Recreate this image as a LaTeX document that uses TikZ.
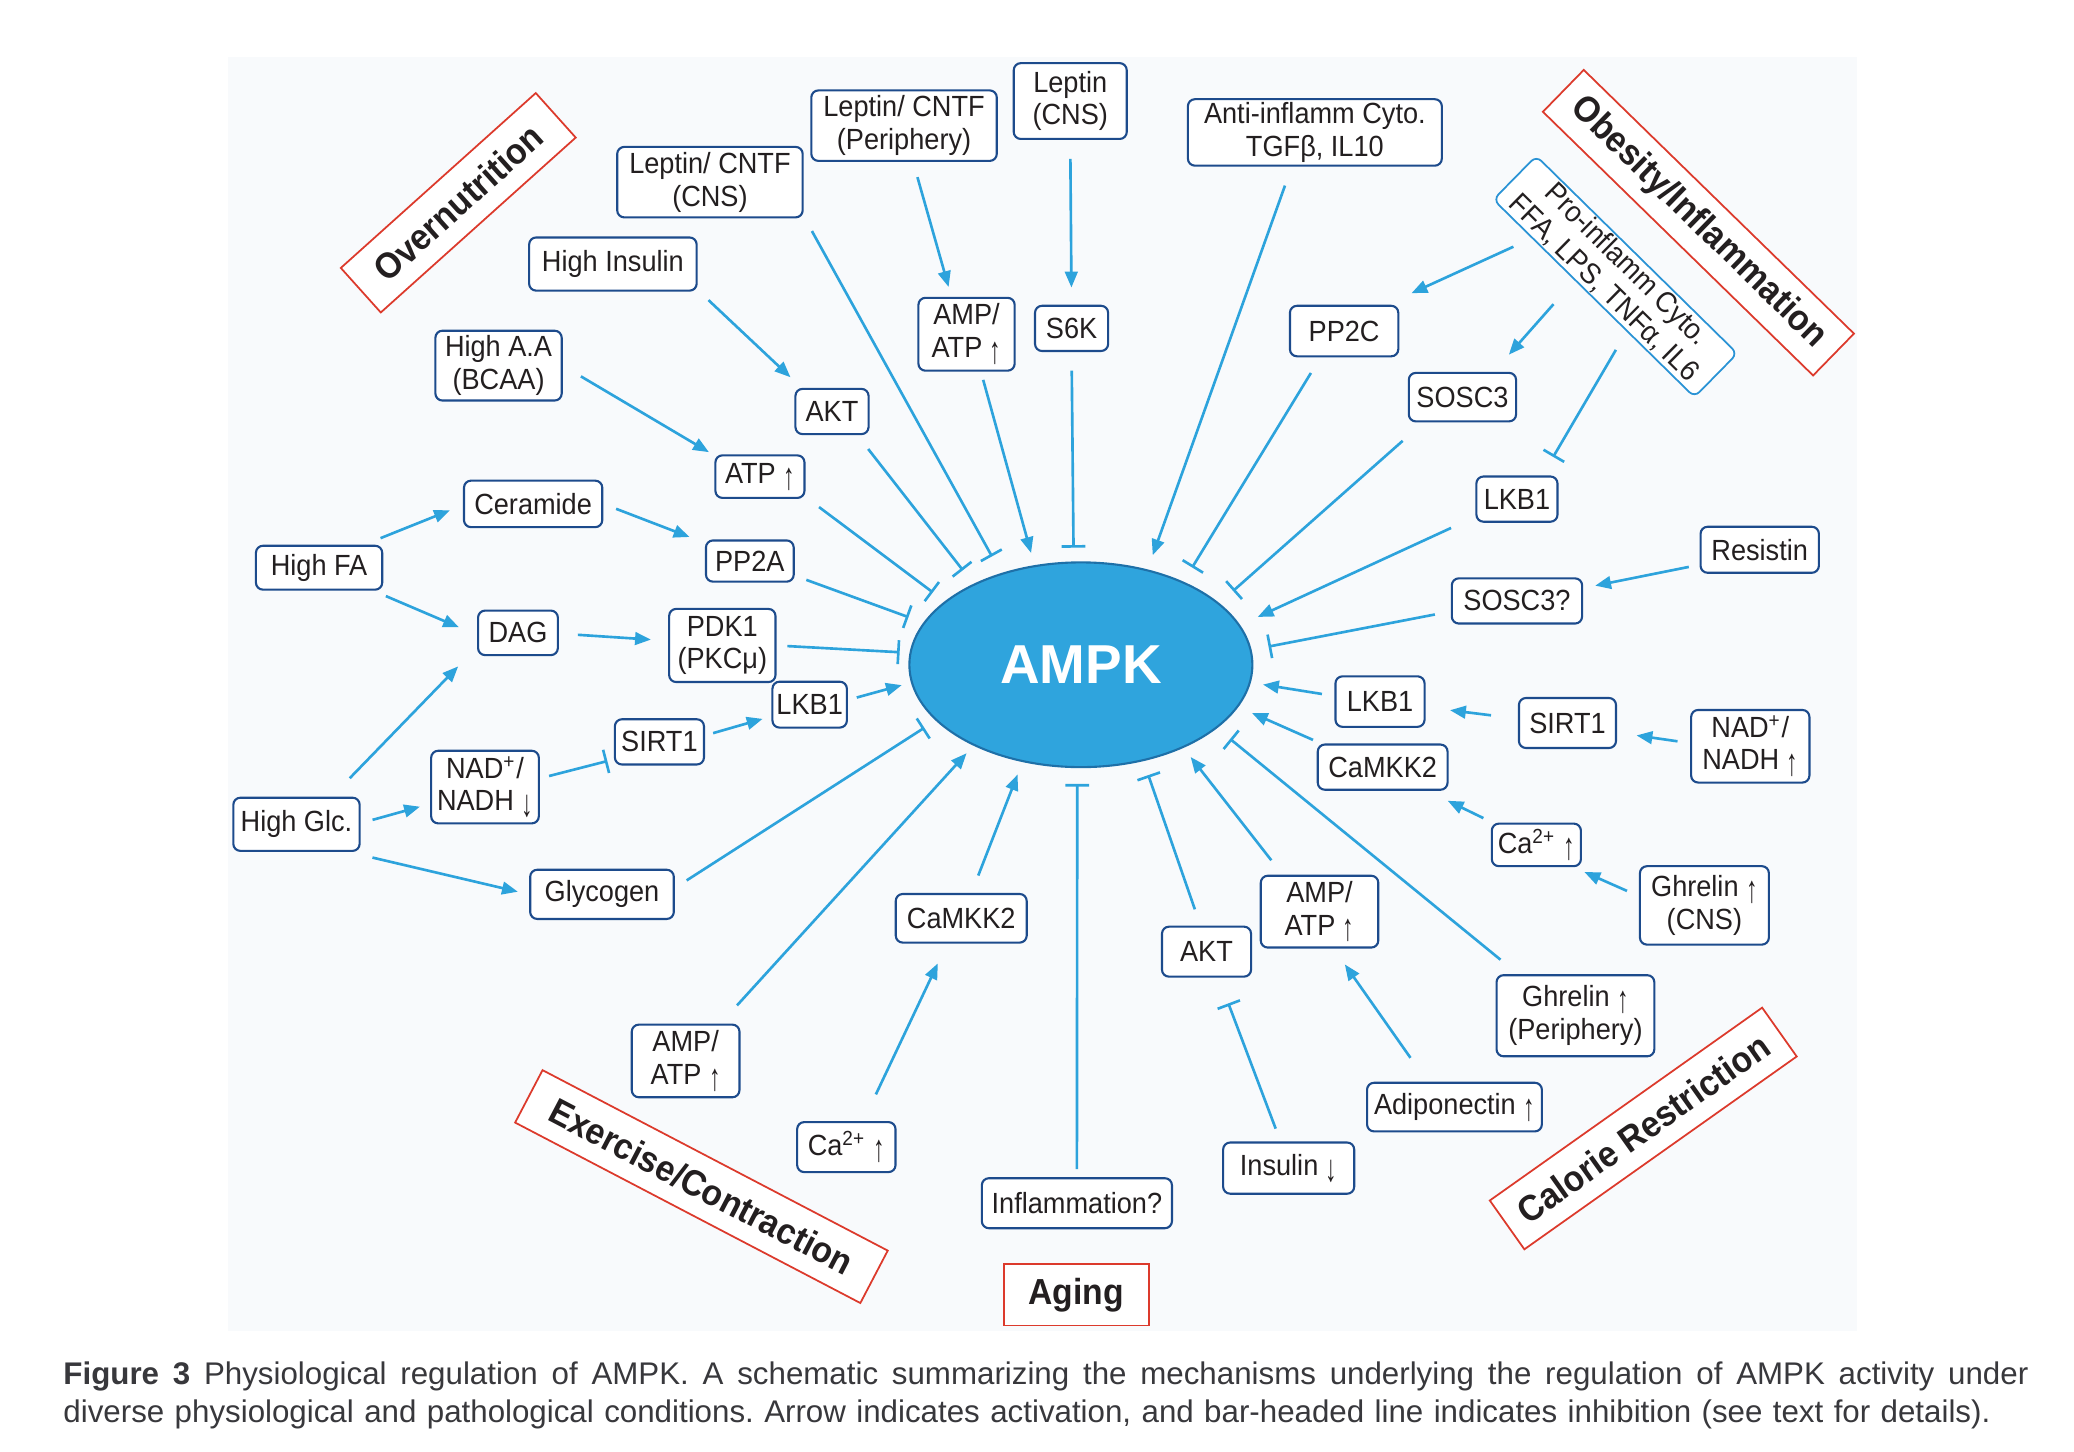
\documentclass[tikz,border=0pt]{standalone}
\usepackage{fontspec}
\usepackage{graphicx}
\setmainfont{Liberation Sans}
\newfontfamily\nfont{Liberation Sans}[FakeStretch=0.93]
\usetikzlibrary{arrows.meta,shapes.geometric}
\newcommand{\pxu}{0.013295cm}
\newcommand{\uparr}{\raisebox{-0.2em}{\scalebox{0.85}[1.3]{↑}}}
\newcommand{\dnarr}{\raisebox{-0.2em}{\scalebox{0.85}[1.3]{↓}}}
\definecolor{lblue}{HTML}{2DA3DC}
\definecolor{navy}{HTML}{1D4B8C}
\definecolor{probl}{HTML}{2A93D5}
\definecolor{redb}{HTML}{DC3A2C}
\definecolor{txt}{HTML}{231F20}
\definecolor{capc}{HTML}{38383C}
\definecolor{ampkf}{HTML}{2FA4DD}
\definecolor{ampkd}{HTML}{1E70A8}
\definecolor{bgc}{HTML}{F8FAFC}
\tikzset{
 nb/.style={draw=navy, line width=0.6pt, rounded corners=2pt, fill=white, text=txt,
   font=\nfont\fontsize{8.3}{9.3}\selectfont, align=center, inner sep=0pt},
 sz/.style 2 args={minimum width=#1*\pxu, minimum height=#2*\pxu},
 rb/.style={draw=redb, line width=0.5pt, fill=white, text=txt,
   font=\nfont\bfseries\fontsize{10.3}{12}\selectfont, inner sep=0pt},
 act/.style={draw=lblue, line width=0.75pt, -{Triangle[length=4.5pt,width=3.6pt]}},
 inh/.style={draw=lblue, line width=0.75pt, -{Bar[width=6.8pt]}},
 gp/.style 2 args={shorten <=#1pt, shorten >=#2pt},
}
\begin{document}
\begin{tikzpicture}[x=0.013295cm, y=-0.013295cm]
\useasboundingbox (0,0) rectangle (1560,1092.1);
\fill[white] (0,0) rectangle (1560,1092.1);
\fill[bgc] (171.6,42.8) rectangle (1397,1001);

% central node
\node[ellipse, draw=ampkd, line width=0.6pt, fill=ampkf, sz={258}{154}, inner sep=0pt,
  text=white, font=\bfseries\fontsize{15.6}{18}\selectfont] (ampk) at (813,500) {AMPK};

% boxes
\node[nb,sz={139.5}{53}] (lcns) at (534,137) {Leptin/ CNTF\\(CNS)};
\node[nb,sz={139.5}{53}] (lper) at (680,94.5) {Leptin/ CNTF\\(Periphery)};
\node[nb,sz={85}{57}] (lepc) at (805,76) {Leptin\\(CNS)};
\node[nb,sz={191}{50}] (anti) at (989,99.6) {Anti-inflamm Cyto.\\TGFβ, IL10};
\node[nb,sz={126}{40}] (hins) at (461,198.6) {High Insulin};
\node[nb,sz={95}{52.5}] (haa) at (375,275) {High A.A\\(BCAA)};
\node[nb,sz={55}{34}] (akt1) at (625.8,309.5) {AKT};
\node[nb,sz={72.4}{54.8}] (amp1) at (727,251.4) {AMP/\\ATP \uparr};
\node[nb,sz={55}{34}] (s6k) at (806,247) {S6K};
\node[nb,sz={67}{32}] (atp) at (571.6,358.5) {ATP \uparr};
\node[nb,sz={104}{35}] (cer) at (401,379) {Ceramide};
\node[nb,sz={66}{31}] (pp2a) at (564,422) {PP2A};
\node[nb,sz={95}{33}] (hfa) at (240,427) {High FA};
\node[nb,sz={60}{33.5}] (dag) at (389.6,476) {DAG};
\node[nb,sz={80}{55}] (pdk1) at (543.3,485.5) {PDK1\\(PKCμ)};
\node[nb,sz={56}{34.5}] (lkb1l) at (609,530) {LKB1};
\node[nb,sz={67}{34}] (sirt1l) at (496,558) {SIRT1};
\node[nb,sz={81}{54.6}] (nadl) at (364.8,592) {NAD\textsuperscript{+}/\\NADH \dnarr};
\node[nb,sz={95}{40}] (hglc) at (223,620) {High Glc.};
\node[nb,sz={108}{37}] (glyc) at (452.8,672.7) {Glycogen};
\node[nb,sz={98.5}{36.6}] (camk1) at (723,690.7) {CaMKK2};
\node[nb,sz={81}{54.6}] (amp2) at (515.7,798) {AMP/\\ATP \uparr};
\node[nb,sz={74}{37.6}] (ca1) at (636.6,862.8) {Ca\textsuperscript{2+} \uparr};
\node[nb,sz={143}{37.6}] (infl) at (810,905) {Inflammation?};
\node[nb,sz={67}{37.6}] (akt2) at (907.5,715.8) {AKT};
\node[nb,sz={88.4}{54}] (amp3) at (992.5,685.7) {AMP/\\ATP \uparr};
\node[nb,sz={98.6}{38.5}] (ins) at (969.3,878.6) {Insulin \dnarr};
\node[nb,sz={131.5}{36.6}] (adipo) at (1094,832.7) {Adiponectin \uparr};
\node[nb,sz={118.7}{61}] (ghp) at (1185,764) {Ghrelin \uparr\\(Periphery)};
\node[nb,sz={97}{59}] (ghc) at (1282,681) {Ghrelin \uparr\\(CNS)};
\node[nb,sz={67}{32}] (ca2) at (1155.6,635.5) {Ca\textsuperscript{2+} \uparr};
\node[nb,sz={97.6}{34}] (camk2) at (1040,577) {CaMKK2};
\node[nb,sz={67}{38}] (lkb1m) at (1038,527.7) {LKB1};
\node[nb,sz={73}{37.6}] (sirt1r) at (1179,543.8) {SIRT1};
\node[nb,sz={89}{54.6}] (nadr) at (1316.5,561.3) {NAD\textsuperscript{+}/\\NADH \uparr};
\node[nb,sz={98}{34}] (sosq) at (1141,452) {SOSC3?};
\node[nb,sz={89}{34.6}] (res) at (1323.6,413.5) {Resistin};
\node[nb,sz={61}{34}] (lkb1t) at (1141,375.4) {LKB1};
\node[nb,sz={80.7}{36.5}] (sosc3) at (1100,298.7) {SOSC3};
\node[nb,sz={81.5}{38}] (pp2c) at (1011,249) {PP2C};
\node[nb,draw=probl,line width=0.5pt,sz={212}{46},rotate=-44.5] (pro) at (1215,208) {Pro-inflamm Cyto.\\FFA, LPS, TNFα, IL6};

% condition labels
\node[rb,sz={197}{45},rotate=41.9] (over) at (344.7,152.5) {Overnutrition};
\node[rb,sz={284}{44},rotate=-44.3] (obes) at (1277.5,167.5) {Obesity/Inflammation};
\node[rb,sz={293}{44.5},rotate=-27.6] (exer) at (527.6,892.5) {Exercise/Contraction};
\node[rb,sz={251}{45},rotate=35.3] (calo) at (1236,848.8) {Calorie Restriction};
\node[rb,sz={109}{46}] (aging) at (809.5,974) {Aging};

% connectors
\draw[inh,gp={4.8}{5.4}] (lcns.-20.3) -- (ampk.131.1);
\draw[act,gp={4.5}{2.9}] (lper.-76.5) -- (amp1.112.2);
\draw[act,gp={2.4}{3.6}] (amp1.-69.2) -- (ampk.115.1);
\draw[act,gp={5.4}{4.9}] (lepc.-90) -- (s6k.90);
\draw[inh,gp={5.3}{3.9}] (s6k.-90) -- (ampk.94.2);
\draw[act,gp={4.2}{4.4}] (hins.-17) -- (akt1.142.7);
\draw[inh,gp={5}{4.9}] (akt1.-43.7) -- (ampk.143.5);
\draw[act,gp={6}{1.8}] (haa.-0.5) -- (atp.155.8);
\draw[inh,gp={4.8}{4.2}] (atp.-24.5) -- (ampk.155.2);
\draw[act,gp={5}{4}] (hfa.27.1) -- (cer.181.3);
\draw[act,gp={3.9}{4.7}] (cer.-0.8) -- (pp2a.158);
\draw[inh,gp={3.5}{4.5}] (pp2a.-18.5) -- (ampk.165.7);
\draw[act,gp={3.9}{5.6}] (hfa.-23.4) -- (dag.183.1);
\draw[act,gp={5.4}{4.9}] (dag.-1.5) -- (pdk1.175);
\draw[inh,gp={3.1}{2.8}] (pdk1.-0.4) -- (ampk.176.9);
\draw[act,gp={2.6}{2.7}] (lkb1l.7) -- (ampk.186.5);
\draw[act,gp={2.4}{2.6}] (sirt1l.8.6) -- (lkb1l.197.9);
\draw[inh,gp={2.7}{1.9}] (nadl.9.1) -- (sirt1l.201.2);
\draw[act,gp={7.3}{7.7}] (hglc.38) -- (dag.199.7);
\draw[act,gp={3.5}{3}] (hglc.1.5) -- (nadl.197.3);
\draw[act,gp={7}{3.3}] (hglc.-28.9) -- (glyc.180);
\draw[inh,gp={4}{3.8}] (glyc.5) -- (ampk.201.1);
\draw[act,gp={7}{2.9}] (amp2.47) -- (ampk.217.7);
\draw[act,gp={8.4}{6.2}] (ca1.57.3) -- (camk1.241.4);
\draw[act,gp={5.3}{3.8}] (camk1.68.5) -- (ampk.239.8);
\draw[inh,gp={2.3}{4.5}] (infl.90) -- (ampk.268.6);
\draw[inh,gp={4.9}{4.2}] (akt2.103.6) -- (ampk.303.6);
\draw[act,gp={5.2}{3.3}] (amp3.135.6) -- (ampk.321.3);
\draw[inh,gp={3.9}{7.8}] (ins.107.1) -- (akt2.-65.2);
\draw[act,gp={8.3}{5.5}] (adipo.137) -- (amp3.-69.4);
\draw[inh,gp={6.5}{4.8}] (ghp.144.9) -- (ampk.335.9);
\draw[act,gp={3.7}{3.4}] (ghc.172.4) -- (ca2.-31.8);
\draw[act,gp={2.9}{6.5}] (ca2.153.4) -- (camk2.-28.6);
\draw[act,gp={2.5}{4.2}] (camk2.159.5) -- (ampk.345.2);
\draw[act,gp={7.7}{7}] (sirt1r.175.6) -- (lkb1m.-7.7);
\draw[act,gp={3.6}{5.6}] (nadr.177.8) -- (sirt1r.-11.1);
\draw[act,gp={3.6}{3.5}] (lkb1m.173.1) -- (ampk.354.5);
\draw[inh,gp={4.6}{4.9}] (sosq.189.4) -- (ampk.5.9);
\draw[act,gp={3.1}{3.5}] (res.194.5) -- (sosq.11.3);
\draw[act,gp={7.6}{5.5}] (lkb1t.203.1) -- (ampk.14.7);
\draw[inh,gp={7.9}{5.2}] (sosc3.213.8) -- (ampk.24.1);
\draw[inh,gp={5.2}{4.7}] (pp2c.228.2) -- (ampk.39.8);
\draw[act,gp={5.7}{4.3}] (anti.236) -- (ampk.55.3);
\draw[act,gp={5.7}{7.9}] (pro.200.4) -- (pp2c.32.8);
\draw[act,gp={9}{6.5}] (pro.230.4) -- (sosc3.39.7);
\draw[inh,gp={6}{6.1}] (pro.326.7) -- (lkb1t.43.5);

% caption
\node[anchor=base west, inner sep=0pt, text width=19.643cm, text=capc,
  font=\frenchspacing\fontsize{8.9}{10.7}\selectfont] (cap) at (47.2,1041.7)
  {\hbox to 19.643cm{\spaceskip=0.28em plus 1em minus 0.05em\textbf{Figure 3} Physiological regulation of AMPK. A schematic summarizing the mechanisms underlying the regulation of AMPK activity under}\par
  \noindent diverse physiological and pathological conditions. Arrow indicates activation, and bar-headed line indicates inhibition (see text for details).};
\end{tikzpicture}
\end{document}
